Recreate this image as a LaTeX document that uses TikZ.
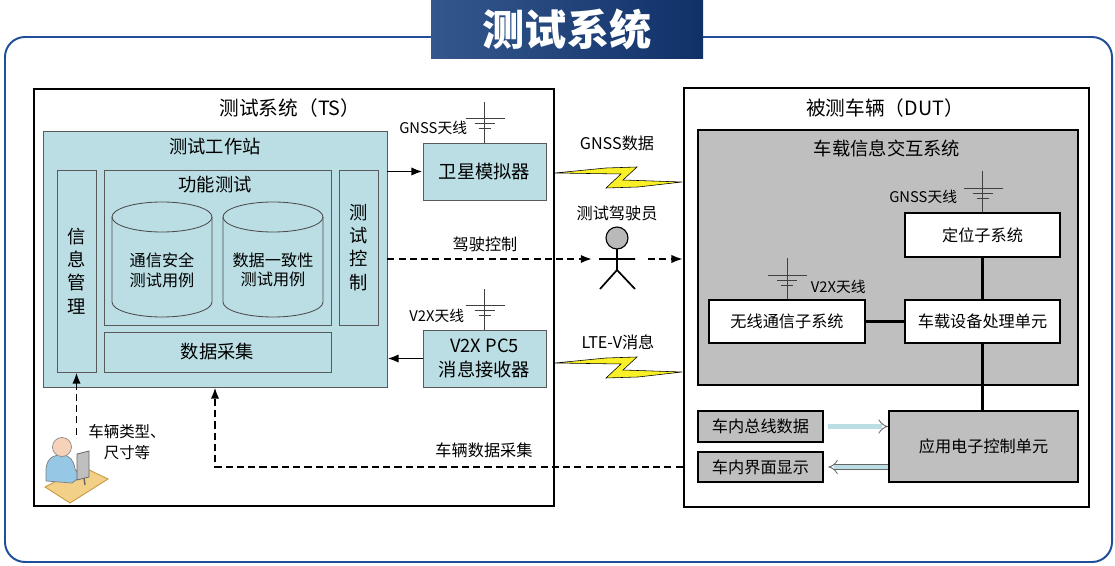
\documentclass[tikz,border=0pt]{standalone}
\usepackage{fontspec}
\setmainfont{Noto Sans CJK SC}
\usetikzlibrary{positioning, arrows.meta, fit}

\definecolor{frameblue}{RGB}{32,78,152}
\definecolor{titleleft}{RGB}{52,88,142}
\definecolor{titleright}{RGB}{16,48,104}
\definecolor{wsblue}{RGB}{186,222,228}
\definecolor{dutgray}{RGB}{191,191,191}
\definecolor{boltyellow}{RGB}{250,240,40}
\definecolor{deskfill}{RGB}{242,208,135}
\definecolor{deskline}{RGB}{200,150,60}
\definecolor{opblue}{RGB}{150,200,230}
\definecolor{skin}{RGB}{245,210,185}

\tikzset{
  sysbox/.style={inner sep=0pt, draw=black, line width=1.8pt, fill=white},
  wsbox/.style={inner sep=0pt, draw=black!65, line width=0.6pt, fill=wsblue},
  whitebox/.style={inner sep=0pt, draw=black, line width=1.5pt, fill=white},
  graybox/.style={inner sep=0pt, draw=black, line width=1.5pt, fill=dutgray},
  fbig/.style={font=\fontsize{14}{17}\selectfont},
  fmid/.style={font=\fontsize{13}{16.5}\selectfont, align=center},
  ftxt/.style={font=\fontsize{11.5}{14}\selectfont, align=center},
  fsmall/.style={font=\fontsize{10.5}{12}\selectfont},
  solidarrow/.style={line width=1.4pt, -{Latex[length=8pt, width=6pt]}},
  dasharrow/.style={line width=1.4pt, dash pattern=on 5pt off 3pt, -{Latex[length=8pt, width=6pt]}},
  link/.style={line width=1.5pt},
  ant/.style={line width=0.6pt, black!75},
  hollow/.style={draw=black!60, double=wsblue, double distance=3pt, line width=0.6pt, -{Implies}}
}

\begin{document}
\begin{tikzpicture}[x=0.025cm, y=0.025cm]
\useasboundingbox (0,0) rectangle (1115,565);

% Frame and title
\draw[frameblue, line width=1.4pt, rounded corners=0.5cm] (5,3) rectangle (1112,528);
\node[inner sep=0pt, fit={(431,506) (703,565)}, left color=titleleft, right color=titleright,
      label={[text=white, font=\fontsize{30}{32}\selectfont\bfseries]center:测试系统}] (title) {};

% Test system (TS)
\node[sysbox, fit={(34,59) (554,476)}] (ts) {};
\node[fbig] (tslbl) at (290,457) {测试系统（TS）};
\node[wsbox, fit={(43,178) (387,434)}] (ws) {};
\node[fmid] (wslbl) at (215,418) {测试工作站};
\node[wsbox, fit={(57,193) (96,395)}, label={[fmid]center:{信\\息\\管\\理}}] (info) {};
\node[wsbox, fit={(104,240) (331,395)}] (func) {};
\node[fmid] (funclbl) at (215,380) {功能测试};
\node[wsbox, fit={(339,240) (378,395)}, label={[fmid]center:{测\\试\\控\\制}}] (ctrl) {};
\node[wsbox, fit={(104,193) (331,233)}, label={[fmid]center:数据采集}] (collect) {};

% Test case databases
\foreach \cx in {162,273} {
  \filldraw[fill=wsblue, draw=black!70, line width=0.6pt] (\cx-50,348) -- (\cx-50,263)
    arc(180:360:50 and 15) -- (\cx+50,348) arc(0:180:50 and 15) -- cycle;
  \draw[black!70, line width=0.6pt] (\cx-50,348) arc(180:360:50 and 15);
}
\node[ftxt] (caseA) at (162,295) {通信安全\\测试用例};
\node[ftxt] (caseB) at (273,295) {数据一致性\\测试用例};

% Simulator and receiver
\node[wsbox, fit={(423,365) (546,422)}, label={[fmid]center:卫星模拟器}] (sat) {};
\node[wsbox, fit={(423,178) (546,235)}, label={[fmid]center:{V2X PC5\\消息接收器}}] (v2x) {};
\node[fsmall, anchor=east] (satant) at (472,437) {GNSS天线};
\node[fsmall, anchor=east] (v2xant) at (469,249) {V2X天线};

% Operator at the PC
\node[inner sep=0pt, fit={(45,62) (109,130)}] (op) {};
\filldraw[fill=deskfill, draw=deskline, line width=0.6pt] (45,78) -- (83,98) -- (108,86) -- (70,62) -- cycle;
\filldraw[fill=opblue, draw=black!50, line width=0.5pt] (46,84) -- (46,96) .. controls (47,106) and (52,110) .. (62,110)
  .. controls (70,110) and (74,104) .. (75,96) -- (80,88) -- (72,82) -- cycle;
\filldraw[fill=skin, draw=black!45, line width=0.5pt] (62,118) circle (9.5);
\filldraw[fill=black!25, draw=black!60, line width=0.6pt] (77,111) -- (89,114) -- (89,88) -- (77,85) -- cycle;
\draw[black!60, line width=1pt] (84,87) -- (85,80);
\node[font=\fontsize{11}{14.5}\selectfont, align=center] (oplbl) at (127,123) {车辆类型、\\尺寸等};

% Driver
\coordinate (drvL) at (592,306);
\coordinate (drvR) at (648,306);
\node[ftxt] (drvlbl) at (617,352) {测试驾驶员};
\filldraw[fill=gray!55, draw=black, line width=0.8pt] (617,327) circle (11);
\draw[line width=1.2pt] (617,316) -- (617,295) (599,306) -- (635,306) (600,276) -- (617,295) -- (635,276);
\node[ftxt] (drvctl) at (485,321) {驾驶控制};

% Radio links
\foreach \dy in {0,-190} {
  \begin{scope}[shift={(0,\dy)}]
  \filldraw[fill=boltyellow, draw=black, line width=0.4pt] (555,392) -- (606,397) -- (637,398) -- (623,385)
    -- (682,383) -- (638,378) -- (606,377) -- (621,391) -- cycle;
  \end{scope}
}
\node[ftxt] (gnsslbl) at (617,422) {GNSS数据};
\node[ftxt] (ltelbl) at (618,223) {LTE-V消息};

% Vehicle under test (DUT)
\node[sysbox, fit={(684,58) (1089,477)}] (dut) {};
\node[fbig] (dutlbl) at (885,457) {被测车辆（DUT）};
\node[graybox, fit={(698,180) (1078,435)}] (ivi) {};
\node[fmid] (ivilbl) at (887,417) {车载信息交互系统};
\node[whitebox, fit={(905,308) (1060,352)}, label={[ftxt]center:定位子系统}] (loc) {};
\node[whitebox, fit={(905,222) (1060,265)}, label={[ftxt]center:车载设备处理单元}] (proc) {};
\node[whitebox, fit={(709,222) (865,265)}, label={[ftxt]center:无线通信子系统}] (wl) {};
\node[graybox, fit={(889,83) (1078,154)}, label={[ftxt]center:应用电子控制单元}] (ecu) {};
\node[graybox, fit={(698,123) (823,154)}, label={[ftxt]center:车内总线数据}] (bus) {};
\node[graybox, fit={(698,83) (823,113)}, label={[ftxt]center:车内界面显示}] (hmi) {};
\node[fsmall, anchor=east] (locant) at (962,368) {GNSS天线};
\node[fsmall, anchor=west] (wlant) at (806,278) {V2X天线};

% Antennas
\foreach \n in {sat, v2x, loc, wl} {
  \draw[ant] (\n.north) -- ++(0,41);
  \draw[ant] ([shift={(-19,24)}]\n.north) -- ++(39,0);
  \draw[ant] ([shift={(-10,19)}]\n.north) -- ++(20,0);
  \draw[ant] ([shift={(-6,14)}]\n.north) -- ++(12,0);
}

% Connections
\draw[solidarrow] (sat.west -| ws.east) -- (sat.west);
\draw[solidarrow] (v2x.west) -- (v2x.west -| ws.east);
\draw[dasharrow] (ws.east |- drvL) -- (drvL);
\draw[dasharrow] (drvR) -- (drvR -| dut.west);
\draw[dasharrow] (op.north -| info.south) -- (info.south);
\draw[dasharrow] (hmi.west -| dut.west) -| (ws.south);
\node[ftxt] (vdclbl) at (484,115) {车辆数据采集};
\draw[link] (loc) -- (proc);
\draw[link] (wl) -- (proc);
\draw[link] (proc.south) -- (proc.south |- ecu.north);
\draw[hollow] ([xshift=3pt]bus.east) -- (bus.east -| ecu.west);
\draw[hollow] (hmi.east -| ecu.west) -- ([xshift=3pt]hmi.east);

\end{tikzpicture}
\end{document}
